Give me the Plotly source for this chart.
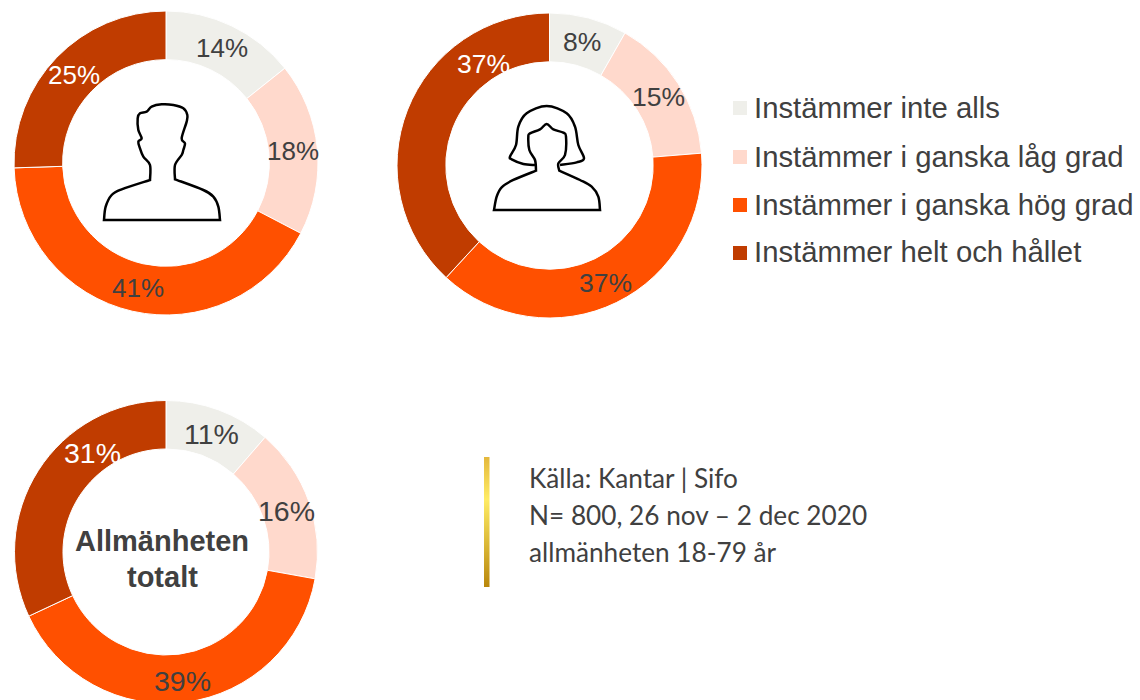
import math
import plotly.graph_objects as go

W, H = 1140, 710

categories = ["Instämmer inte alls", "Instämmer i ganska låg grad",
              "Instämmer i ganska hög grad", "Instämmer helt och hållet"]
men_values = [14, 18, 41, 25]
women_values = [8, 15, 37, 37]
total_values = [11, 16, 39, 31]
colors = ["#EFEFEA", "#FFD9CC", "#FF5000", "#C03C00"]
label_colors = ["#404040", "#404040", "#404040", "#FFFFFF"]
source_lines = ["Källa: Kantar | Sifo", "N= 800, 26 nov – 2 dec 2020", "allmänheten 18-79 år"]
center_lines = ["Allmänheten", "totalt"]

# Hand-placed label nudges in the original (pixels, from the slice's mid-ring point)
men_nudges = [(1, -1), (1, 0), (0, 1), (-1, 0)]
women_nudges = [(0, -1), (2, 0), (0, 3), (52, -55)]
total_nudges = [(1, 1), (1, 1), (0, 3), (34, -31)]

ARIAL = "Liberation Sans, Arial, sans-serif"
INK = "#404040"
LABEL_RADIUS = 127


def px(x):
    return x / W


def py(y):
    return 1 - y / H


def smooth(points, close=True):
    """Catmull-Rom path through outline points; a repeated point is a sharp corner."""
    runs, run = [], [points[0]]
    for p in points[1:]:
        if p == run[-1]:
            runs.append(run)
            run = [p]
        else:
            run.append(p)
    runs.append(run)
    out = f"M {px(points[0][0]):.5f} {py(points[0][1]):.5f}"
    for run in runs:
        n = len(run)
        for i in range(n - 1):
            p0 = run[max(i - 1, 0)]
            p1 = run[i]
            p2 = run[i + 1]
            p3 = run[min(i + 2, n - 1)]
            c1 = (p1[0] + (p2[0] - p0[0]) / 6, p1[1] + (p2[1] - p0[1]) / 6)
            c2 = (p2[0] - (p3[0] - p1[0]) / 6, p2[1] - (p3[1] - p1[1]) / 6)
            out += (f" C {px(c1[0]):.5f} {py(c1[1]):.5f} {px(c2[0]):.5f} {py(c2[1]):.5f}"
                    f" {px(p2[0]):.5f} {py(p2[1]):.5f}")
    return out + (" Z" if close else "")


def zoomed(points, ox, oy):
    return [(ox + a / 3, oy + b / 3) for a, b in points]


annotations = []


def text(x, y, s, size, family=ARIAL, anchor="left", color=INK):
    annotations.append(dict(x=px(x), y=py(y), xref="paper", yref="paper", text=s, showarrow=False,
                            xanchor=anchor, yanchor="middle", align=anchor,
                            font=dict(family=family, size=size, color=color)))


def donut(values, nudges, cx, cy, r, label_size):
    total = sum(values)
    cum = 0
    for v, col, (dx, dy) in zip(values, label_colors, nudges):
        a = 2 * math.pi * (cum + v / 2) / total
        cum += v
        text(cx + LABEL_RADIUS * math.sin(a) + dx, cy - LABEL_RADIUS * math.cos(a) + dy,
             f"{v}%", label_size, anchor="center", color=col)
    return go.Pie(
        values=values, labels=categories, sort=False, direction="clockwise", rotation=0,
        hole=0.68, showlegend=False, textinfo="none",
        marker=dict(colors=colors, line=dict(color="#FFFFFF", width=1)),
        domain=dict(x=[px(cx - r), px(cx + r)], y=[py(cy + r), py(cy - r)]),
        hoverinfo="label+percent",
    )


fig = go.Figure([
    donut(men_values, men_nudges, 166, 163, 152, 26),
    donut(women_values, women_nudges, 549.5, 165.5, 152.5, 26.5),
    donut(total_values, total_nudges, 166, 552, 151.5, 28.5),
])

man = [(42, 390), (47, 350), (65, 315), (95, 298), (180, 270), (180, 270), (180, 225), (160, 200),
       (150, 175), (145, 155), (155, 145), (145, 120), (143, 85), (150, 70), (170, 65), (185, 50), (215, 43),
       (250, 45), (280, 55), (292, 75), (290, 95), (275, 145), (285, 160), (280, 180), (275, 195), (255, 225),
       (255, 268), (255, 268), (340, 300), (370, 320), (385, 350), (390, 390), (390, 390), (42, 390)]
woman = [(42, 330), (50, 290), (65, 262), (100, 240), (168, 212), (168, 212), (165, 180), (148, 150),
         (145, 110), (150, 100), (180, 88), (200, 72), (220, 88), (250, 98), (258, 110), (255, 165), (235, 190),
         (238, 212), (238, 212), (300, 240), (335, 260), (355, 290), (360, 330), (360, 330), (42, 330)]
hair = [(165, 195), (130, 192), (95, 178), (90, 170), (108, 135), (115, 80), (140, 40), (200, 18), (260, 40),
        (285, 80), (295, 135), (312, 175), (290, 187), (240, 195)]

shapes = [
    dict(type="path", xref="paper", yref="paper", path=smooth(zoomed(man, 90, 90)),
         line=dict(color="#000000", width=2.5), fillcolor="#FFFFFF"),
    dict(type="path", xref="paper", yref="paper", path=smooth(zoomed(woman, 480, 100)),
         line=dict(color="#000000", width=2.5), fillcolor="#FFFFFF"),
    dict(type="path", xref="paper", yref="paper", path=smooth(zoomed(hair, 480, 100), close=False),
         line=dict(color="#000000", width=2.5)),
]

for cat, col, y in zip(categories, colors, [108, 157, 205, 253]):
    shapes.append(dict(type="rect", xref="paper", yref="paper", x0=px(733), x1=px(747),
                       y0=py(y + 7), y1=py(y - 7), fillcolor=col, line_width=0))
    text(752, y - 1, cat, 29.3)

for s, y in zip(source_lines, [478, 515, 552]):
    text(527, y, s, 26.2, family="Lato, Carlito, sans-serif")
for s, y in zip(center_lines, [541, 577]):
    text(162, y, f"<b>{s}</b>", 29, anchor="center")

# Gradient rule next to the source note
stops = [(0.0, (228, 184, 60)), (0.32, (255, 236, 100)), (1.0, (184, 134, 11))]
top, bottom = 457, 587
for y in range(top, bottom):
    t = (y - top) / (bottom - top)
    for (t0, c0), (t1, c1) in zip(stops, stops[1:]):
        if t0 <= t <= t1:
            f = (t - t0) / (t1 - t0)
            c = [round(a + (b - a) * f) for a, b in zip(c0, c1)]
            break
    shapes.append(dict(type="rect", xref="paper", yref="paper", x0=px(484), x1=px(489.5),
                       y0=py(y + 1), y1=py(y), fillcolor=f"rgb({c[0]},{c[1]},{c[2]})", line_width=0))

fig.update_layout(width=W, height=H, margin=dict(l=0, r=0, t=0, b=0), paper_bgcolor="#FFFFFF",
                  shapes=shapes, annotations=annotations, showlegend=False)

fig.write_html("out.html", config=dict(displayModeBar=False),
               post_script="document.body.style.margin='0';document.body.style.overflow='hidden';")
